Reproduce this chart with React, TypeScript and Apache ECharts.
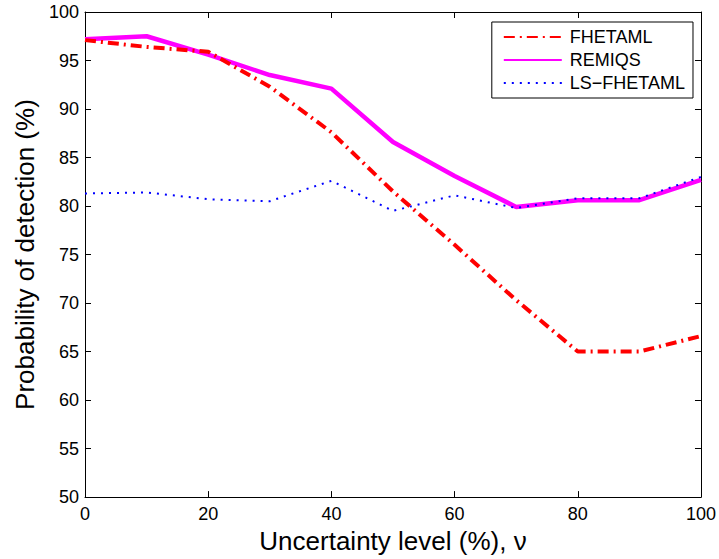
import React, { useEffect, useRef } from "react";
import * as echarts from "echarts";

const uncertainty = [0, 10, 20, 30, 40, 50, 60, 70, 80, 90, 100];
const fhetaml = [97.1, 96.4, 95.9, 92.3, 87.6, 81.5, 76.0, 70.3, 65.0, 65.0, 66.6];
const remiqs = [97.2, 97.5, 95.6, 93.5, 92.1, 86.6, 83.1, 79.9, 80.6, 80.6, 82.7];
const lsFhetaml = [81.3, 81.4, 80.7, 80.5, 82.6, 79.5, 81.1, 79.8, 80.8, 80.8, 83.0];
const xTicks = [0, 20, 40, 60, 80, 100];
const seriesNames = ["FHETAML", "REMIQS", "LS\u2212FHETAML"];

const FONT = "'Liberation Sans', Arial, Helvetica, sans-serif";

export default function App() {
  const ref = useRef<HTMLDivElement>(null);
  useEffect(() => {
    if (!ref.current) return;
    const chart = echarts.init(ref.current, undefined, { renderer: "svg" });
    const pair = (ys: number[]) => uncertainty.map((x, i) => [x, ys[i]]);
    const axisCommon = {
      axisLine: { show: true, onZero: false, lineStyle: { color: "#000", width: 1 } },
      axisTick: { show: true, inside: true, length: 6, lineStyle: { color: "#000" } },
      splitLine: { show: false },
    };
    chart.setOption({
      animation: false,
      backgroundColor: "#fff",
      textStyle: { fontFamily: FONT },
      grid: { left: 85, right: 16, top: 12, bottom: 59, containLabel: false },
      legend: {
        orient: "vertical",
        right: 26,
        top: 22,
        data: seriesNames,
        backgroundColor: "#fff",
        borderColor: "#000",
        borderWidth: 1,
        padding: [6, 8, 6, 11],
        itemWidth: 58,
        itemHeight: 18,
        itemGap: 5,
        itemStyle: { opacity: 0 },
        textStyle: { fontSize: 18, color: "#000", fontFamily: FONT, padding: [0, 0, 0, 3] },
      },
      xAxis: [
        {
          type: "value",
          min: 0,
          max: 100,
          interval: 20,
          ...axisCommon,
          axisLabel: {
            color: "#000",
            fontSize: 18,
            fontFamily: FONT,
            margin: 8,
            formatter: (v: number) => (xTicks.includes(v) ? String(v) : ""),
          },
          name: "Uncertainty level (%), \u03bd",
          nameLocation: "middle",
          nameGap: 28,
          nameTextStyle: { fontSize: 26, color: "#000", fontFamily: FONT },
        },
        {
          type: "value",
          position: "top",
          min: 0,
          max: 100,
          interval: 20,
          ...axisCommon,
          axisLabel: { show: false },
        },
      ],
      yAxis: [
        {
          type: "value",
          min: 50,
          max: 100,
          interval: 5,
          ...axisCommon,
          axisLabel: { color: "#000", fontSize: 18, fontFamily: FONT, margin: 6 },
          name: "Probability of detection (%)",
          nameLocation: "middle",
          nameGap: 47,
          nameTextStyle: { fontSize: 26, color: "#000", fontFamily: FONT },
        },
        {
          type: "value",
          position: "right",
          min: 50,
          max: 100,
          interval: 5,
          ...axisCommon,
          axisLabel: { show: false },
        },
      ],
      series: [
        {
          name: seriesNames[0],
          type: "line",
          data: pair(fhetaml),
          symbol: "none",
          color: "#ff0000",
          lineStyle: { color: "#ff0000", width: 4, type: [11, 5, 2, 5], cap: "butt" },
          z: 3,
        },
        {
          name: seriesNames[1],
          type: "line",
          data: pair(remiqs),
          symbol: "none",
          color: "#ff00ff",
          lineStyle: { color: "#ff00ff", width: 4.5, type: "solid" },
          z: 2,
        },
        {
          name: seriesNames[2],
          type: "line",
          data: pair(lsFhetaml),
          symbol: "none",
          color: "#0000ff",
          lineStyle: { color: "#0000ff", width: 2, type: [2, 6], cap: "butt" },
          z: 4,
        },
      ],
    });
    return () => chart.dispose();
  }, []);
  return (
    <div
      ref={ref}
      style={{ position: "fixed", left: 0, top: 0, width: 719, height: 559, background: "#fff" }}
    />
  );
}
